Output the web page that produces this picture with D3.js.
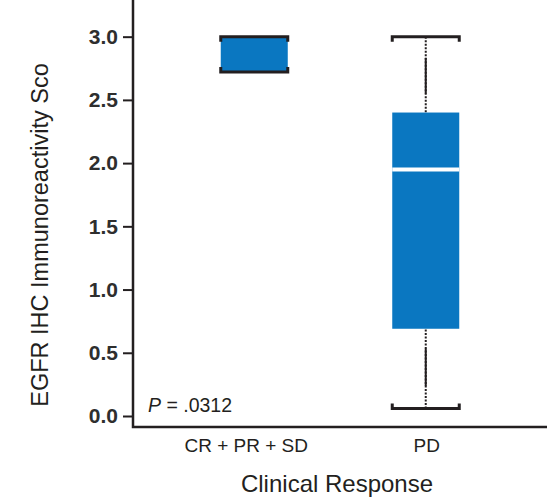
<!DOCTYPE html>
<html>
<head>
<meta charset="utf-8">
<script src="https://cdn.jsdelivr.net/npm/d3@7"></script>
<style>
  body { margin: 0; background: #fff; }
  text { font-family: "Liberation Sans", Arial, sans-serif; fill: #231f20; }
</style>
</head>
<body>
<div id="chart"></div>
<script>
var width = 559,
    height = 498;

// values
var groups = ["CR + PR + SD", "PD"];
var mins    = [2.72, 0.06];
var q1s     = [2.72, 0.69];
var medians = [3.0, 1.95];
var q3s     = [3.0, 2.40];
var maxs    = [3.0, 3.0];
var yTicks  = [0, 0.5, 1.0, 1.5, 2.0, 2.5, 3.0];

var boxes = groups.map(function(g, i) {
  return { name: g, min: mins[i], q1: q1s[i], med: medians[i], q3: q3s[i], max: maxs[i] };
});

var svg = d3.select("#chart")
  .append("svg")
  .attr("width", width)
  .attr("height", height);

var mLeft = 133, mRight = 547, mTop = 0, mBottom = 427;

var y = d3.scaleLinear()
  .domain([-0.087, 3.29])
  .range([mBottom, mTop]);

var x = d3.scalePoint()
  .domain(groups)
  .range([mLeft, mRight])
  .padding(0.707);

var boxW = 67;
var ink = "#231f20";
var blue = "#0a77c1";

// y axis
var yAxis = d3.axisLeft(y)
  .tickValues(yTicks)
  .tickFormat(d3.format(".1f"))
  .tickSize(10)
  .tickPadding(5);

var ga = svg.append("g")
  .attr("transform", "translate(" + mLeft + ",0)")
  .call(yAxis);
ga.select(".domain").remove();
ga.selectAll(".tick line").attr("stroke", ink).attr("stroke-width", 2);
ga.selectAll(".tick text")
  .attr("font-size", "21px")
  .attr("font-weight", "bold")
  .attr("font-family", "'Liberation Sans', Arial, sans-serif")
  .style("fill", "#2e2e2e");

// axis lines
svg.append("path")
  .attr("d", "M" + mLeft + "," + mTop + "V" + mBottom + "H" + mRight)
  .attr("fill", "none")
  .attr("stroke", ink)
  .attr("stroke-width", 2.5);

// boxes
var gb = svg.selectAll(".box")
  .data(boxes)
  .enter()
  .append("g")
  .attr("class", "box");

// whiskers: dotted near the ends, solid in the middle
function whisker(sel, a, b) {
  sel.append("line")
    .attr("x1", function(d) { return x(d.name); })
    .attr("x2", function(d) { return x(d.name); })
    .attr("y1", function(d) { return y(d[a]); })
    .attr("y2", function(d) { return y(d[b]); })
    .attr("stroke", ink)
    .attr("stroke-width", 2)
    .attr("stroke-dasharray", "2,1.5");
  sel.append("line")
    .attr("x1", function(d) { return x(d.name); })
    .attr("x2", function(d) { return x(d.name); })
    .attr("y1", function(d) { var p = y(d[a]), q = y(d[b]); return p + (q - p) * 0.28; })
    .attr("y2", function(d) { var p = y(d[a]), q = y(d[b]); return p + (q - p) * 0.75; })
    .attr("stroke", ink)
    .attr("stroke-width", 2);
}
whisker(gb, "max", "q3");
whisker(gb, "min", "q1");

gb.append("rect")
  .attr("x", function(d) { return x(d.name) - boxW / 2; })
  .attr("width", boxW)
  .attr("y", function(d) { return y(d.q3); })
  .attr("height", function(d) { return y(d.q1) - y(d.q3); })
  .attr("fill", blue);

gb.filter(function(d) { return d.med < d.q3 && d.med > d.q1; })
  .append("line")
  .attr("x1", function(d) { return x(d.name) - boxW / 2; })
  .attr("x2", function(d) { return x(d.name) + boxW / 2; })
  .attr("y1", function(d) { return y(d.med); })
  .attr("y2", function(d) { return y(d.med); })
  .attr("stroke", "#fff")
  .attr("stroke-width", 4);

// bracket caps
gb.append("path")
  .attr("d", function(d) {
    var x0 = x(d.name) - boxW / 2, x1 = x(d.name) + boxW / 2, yy = y(d.max);
    return "M" + x0 + "," + (yy + 5) + "V" + yy + "H" + x1 + "V" + (yy + 5);
  })
  .attr("fill", "none")
  .attr("stroke", ink)
  .attr("stroke-width", 3);

gb.append("path")
  .attr("d", function(d) {
    var x0 = x(d.name) - boxW / 2, x1 = x(d.name) + boxW / 2, yy = y(d.min);
    return "M" + x0 + "," + (yy - 5) + "V" + yy + "H" + x1 + "V" + (yy - 5);
  })
  .attr("fill", "none")
  .attr("stroke", ink)
  .attr("stroke-width", 3);

// category labels
svg.selectAll(".cat")
  .data(groups)
  .enter()
  .append("text")
  .attr("class", "cat")
  .attr("x", function(d, i) { return x(d) + (i === 0 ? -8 : 1); })
  .attr("y", 452)
  .attr("text-anchor", "middle")
  .attr("font-size", "19px")
  .text(function(d) { return d; });

// axis titles
svg.append("text")
  .attr("x", 337)
  .attr("y", 492)
  .attr("text-anchor", "middle")
  .attr("font-size", "24px")
  .text("Clinical Response");

svg.append("text")
  .attr("transform", "translate(48,235) rotate(-90)")
  .attr("text-anchor", "middle")
  .attr("font-size", "23.5px")
  .text("EGFR IHC Immunoreactivity Sco");

// p value
var pt = svg.append("text")
  .attr("x", 148)
  .attr("y", 412)
  .attr("font-size", "19.5px");
pt.append("tspan").attr("font-style", "italic").text("P");
pt.append("tspan").text(" = .0312");
</script>
</body>
</html>
